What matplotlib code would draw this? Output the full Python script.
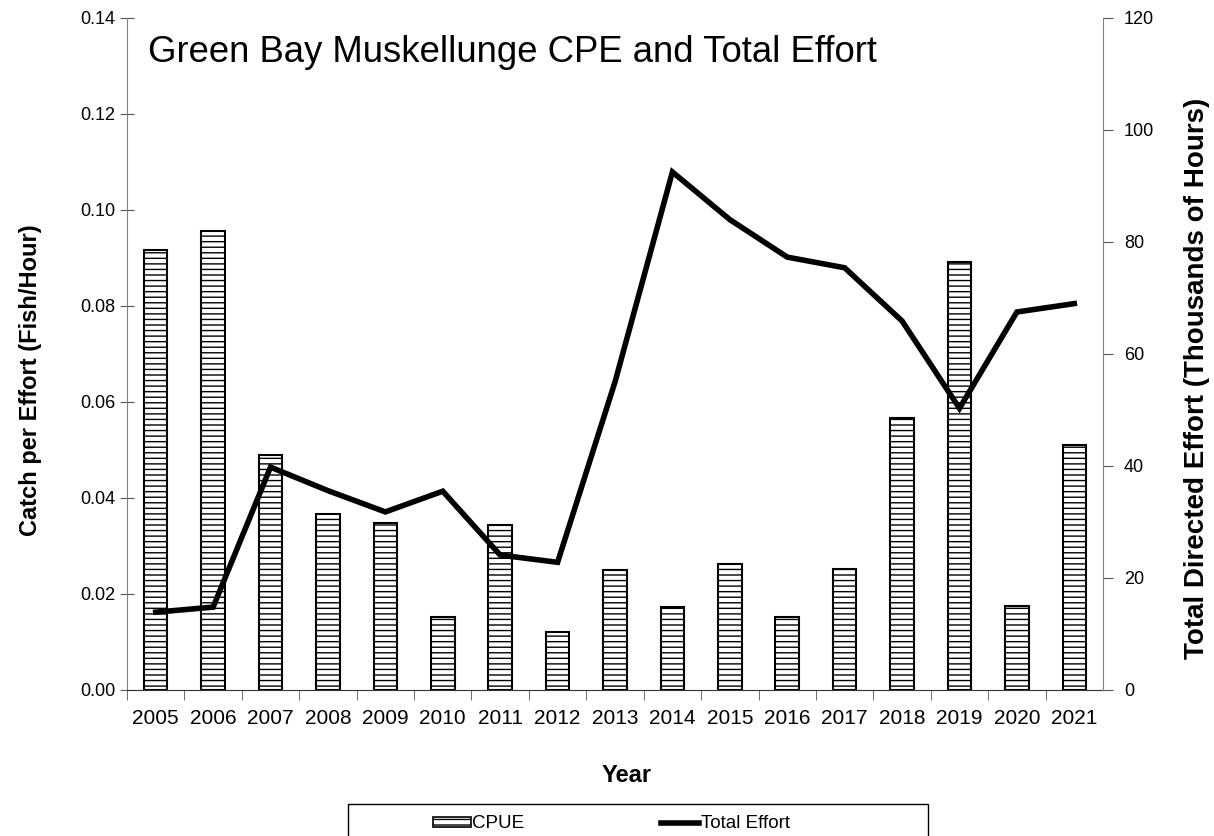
import matplotlib.pyplot as plt
from matplotlib.patches import Patch, Rectangle
from matplotlib.lines import Line2D

plt.rcParams['font.family'] = ['Liberation Sans', 'DejaVu Sans']
plt.rcParams['hatch.linewidth'] = 1.0

years = [str(y) for y in range(2005, 2022)]
cpue = [0.0916, 0.0957, 0.0489, 0.0366, 0.0347, 0.0153, 0.0344, 0.0120, 0.0250,
        0.0173, 0.0262, 0.0153, 0.0252, 0.0567, 0.0891, 0.0176, 0.0510]
effort = [13.9, 14.8, 39.8, 35.6, 31.8, 35.5, 24.1, 22.8, 55.0,
          92.5, 84.0, 77.3, 75.4, 65.9, 50.3, 67.5, 69.0]

W, H = 1214, 836
fig = plt.figure(figsize=(W / 100, H / 100), dpi=100)
ax = fig.add_axes([127 / W, 1 - 690 / H, 976 / W, 672 / H])
ax2 = ax.twinx()

x = list(range(len(years)))

# CPUE bars with horizontal hatching
ax.bar(x, cpue, width=0.41, color='white', edgecolor='black', hatch='---',
       linewidth=1.5, zorder=2)
ax.set_xlim(-0.5, len(years) - 0.5)
ax.set_ylim(0, 0.14)
ax.set_yticks([0, 0.02, 0.04, 0.06, 0.08, 0.10, 0.12, 0.14])
ax.set_yticklabels([f'{v:.2f}' for v in ax.get_yticks()])
ax.set_xticks(x)
ax.set_xticklabels(years)
ax.set_xticks([i + 0.5 for i in x[:-1]] + [-0.5], minor=True)
ax.tick_params(axis='x', which='major', length=0, labelsize=15, pad=14)
ax.tick_params(axis='x', which='minor', length=7, direction='out', color='#555555')
ax.tick_params(axis='y', direction='inout', length=10, labelsize=13, color='#555555')

# total effort line
ax2.plot(x, effort, color='black', linewidth=4, solid_joinstyle='miter', zorder=3)
ax2.set_ylim(0, 120)
ax2.set_yticks(range(0, 121, 20))
ax2.tick_params(axis='y', direction='out', length=7, pad=8, labelsize=13, color='#555555')

for a in (ax, ax2):
    for s in a.spines.values():
        s.set_visible(False)
ax.spines['left'].set_visible(True)
ax.spines['left'].set_color('#808080')
ax.spines['bottom'].set_visible(True)
ax.spines['bottom'].set_color('#333333')
ax2.spines['right'].set_visible(True)
ax2.spines['right'].set_color('#808080')

# axis titles
fig.text(31 / W, 1 - 380 / H, 'Catch per Effort (Fish/Hour)', rotation=90,
         fontsize=17, fontweight='bold', ha='center', va='center')
fig.text(1197 / W, 1 - 378 / H, 'Total Directed Effort (Thousands of Hours)', rotation=90,
         fontsize=20, fontweight='bold', ha='center', va='center')
fig.text(627 / W, 1 - 776 / H, 'Year', fontsize=17, fontweight='bold',
         ha='center', va='center')

ax.text(148 / W, 1 - 52 / H, 'Green Bay Muskellunge CPE and Total Effort',
        transform=fig.transFigure, fontsize=26.3, va='center', ha='left')

# legend box, cut by the lower edge of the picture
fig.add_artist(Rectangle((348 / W, -0.02), 580 / W, (H - 804) / H + 0.02,
                         transform=fig.transFigure, fill=False, edgecolor='black',
                         linewidth=1.0))
handles = [Patch(facecolor='white', edgecolor='black', hatch='---', linewidth=1.2),
           Line2D([0], [0], color='black', linewidth=4)]
fig.legend(handles, ['CPUE', 'Total Effort'], loc='center left',
           bbox_to_anchor=(433 / W, 1 - 824 / H), ncol=2, fontsize=13.5,
           frameon=False, handlelength=2.0, handleheight=0.5, handletextpad=0.1,
           columnspacing=7.3, borderpad=0, borderaxespad=0)

fig.savefig('out.png', dpi=100)
